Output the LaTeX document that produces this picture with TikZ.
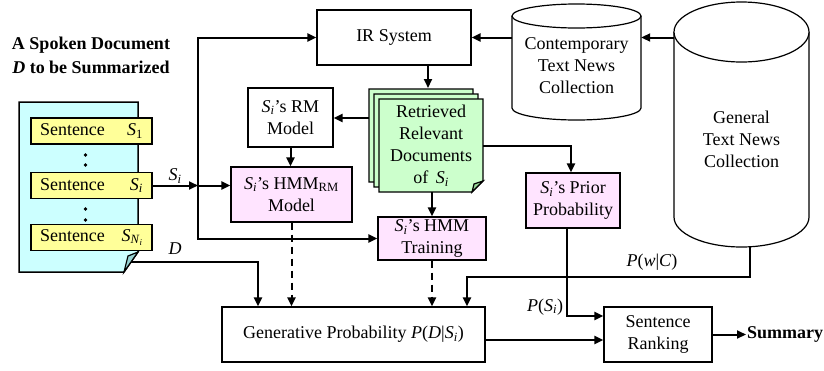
\documentclass[tikz,border=0pt]{standalone}
\usepackage{fontspec}
\setmainfont{Liberation Serif}
\usetikzlibrary{positioning,calc,arrows.meta}

\definecolor{doccyan}{RGB}{204,255,255}
\definecolor{foldcyan}{RGB}{150,210,210}
\definecolor{sentyellow}{RGB}{255,255,153}
\definecolor{docgreen}{RGB}{204,255,204}
\definecolor{foldgreen}{RGB}{150,215,150}
\definecolor{hmmpink}{RGB}{255,228,255}

\newcommand{\Si}{\textit{S}\textsubscript{\textit{i}}}

\begin{document}
\begin{tikzpicture}[x=1pt,y=-1pt,
    font=\fontsize{18}{22}\selectfont,
    box/.style={draw, line width=1.2pt, fill=white, align=center, inner sep=0pt},
    pinkbox/.style={box, fill=hmmpink},
    sentbox/.style={draw, line width=1.5pt, fill=sentyellow, minimum height=26pt,
        text width=103pt, inner xsep=9pt, inner ysep=0pt},
    arr/.style={line width=2pt, -{Triangle[length=9pt,width=8pt]}},
    dasharr/.style={arr, dash pattern=on 7pt off 5pt}]
    \useasboundingbox (0,0) rectangle (824,370);

    % Spoken document
    \node[font=\fontsize{18}{24}\selectfont\bfseries, align=center] (title) at (91,55)
        {A Spoken Document\\\textit{D} to be Summarized};
    \draw[line width=1.5pt, fill=doccyan] (19,102) -- (138,102) -- (138,252) -- (124,272) -- (19,272) -- cycle;
    \draw[line width=1.2pt, fill=foldcyan] (138,252) -- (124,272) -- (128,256) -- cycle;
    \node[sentbox] (s1) at (91.5,131) {Sentence\hfill\textit{S}\textsubscript{1}};
    \node[sentbox] (s2) at (91.5,185.5) {Sentence\hfill\Si};
    \node[sentbox] (s3) at (91.5,237.5) {Sentence\hfill\textit{S}\textsubscript{\textit{N}\textsubscript{\textit{i}}}};
    \foreach \y in {155,165,209,220}
        \fill (85.5,\y) circle[radius=1.8pt];

    % Text collections
    \draw[line width=1.2pt, fill=white] (512,16) -- (512,108) arc[start angle=180, end angle=0, x radius=64.5, y radius=12] -- (641,16);
    \draw[line width=1.2pt, fill=white] (576.5,16) ellipse[x radius=64.5, y radius=12];
    \node[align=center, minimum width=129pt, inner sep=0pt] (cont) at (576.5,66) {Contemporary\\Text News\\Collection};
    \draw[line width=1.2pt, fill=white] (674,32) -- (674,217) arc[start angle=180, end angle=0, x radius=67.5, y radius=30] -- (809,32);
    \draw[line width=1.2pt, fill=white] (741.5,32) ellipse[x radius=67.5, y radius=30];
    \node[align=center, minimum width=135pt, inner sep=0pt] (gnc) at (741.5,139) {General\\Text News\\Collection};
    \coordinate (gncb) at (750,247);

    % Retrieved documents
    \foreach \d in {10,5,0}
        \draw[line width=1.2pt, fill=docgreen, shift={(-\d,-\d)}] (379,99) -- (483,99) -- (483,181) -- (472,192) -- (379,192) -- cycle;
    \draw[line width=1.2pt, fill=foldgreen] (483,181) -- (472,192) -- (474,184) -- cycle;
    \node[align=center, minimum width=104pt, minimum height=93pt, inner sep=0pt] (docs) at (431,145.5)
        {Retrieved\\Relevant\\Documents\\of \,\Si};
    \coordinate (dtop) at (428,88);
    \coordinate (dleft) at (369,118);

    % Boxes
    \node[box, minimum width=154pt, minimum height=55pt] (ir) at (394,37.5) {IR System};
    \node[box, minimum width=85pt, minimum height=59pt] (rm) at (290.5,117.5) {\Si’s RM\\Model};
    \node[pinkbox, minimum width=121pt, minimum height=55pt] (hmmrm) at (291.5,194.5) {\Si’s HMM\textsubscript{RM}\\Model};
    \node[pinkbox, minimum width=108pt, minimum height=43pt] (hmmtr) at (432,238.5) {\Si’s HMM\\Training};
    \node[pinkbox, minimum width=94pt, minimum height=55pt] (prior) at (573,200.5) {\Si’s Prior\\Probability};
    \node[box, minimum width=263pt, minimum height=55pt] (gen) at (353.5,334.5)
        {Generative Probability \textit{P}(\textit{D}|\Si)};
    \node[box, minimum width=108pt, minimum height=55pt] (rank) at (658,334.5) {Sentence\\Ranking};
    \node[font=\fontsize{18}{22}\selectfont\bfseries, anchor=west, inner sep=1pt] (summ) at (746,334.5) {Summary};

    % Connectors
    \coordinate (jn) at (198,185.5);
    \draw[arr] (s2.east) -- (jn);
    \draw[arr] (jn) -- (jn -| hmmrm.west);
    \draw[arr] (jn) |- (ir.west);
    \draw[arr] (jn) |- (hmmtr.west);
    \node (lsi) at (175,176) {\Si};

    \draw[arr] (ir.east -| cont.west) -- (ir.east);
    \draw[arr] (ir.east -| gnc.west) -- (ir.east -| cont.east);
    \draw[arr] (dtop |- ir.south) -- (dtop);
    \draw[arr] (dleft) -- (dleft -| rm.east);
    \draw[arr] (rm.south) -- (rm.south |- hmmrm.north);
    \draw[arr] (hmmtr.north |- docs.south) -- (hmmtr.north);
    \draw[arr] (docs.east) -| ([xshift=-2pt]prior.north);

    \coordinate (dfold) at (131,262);
    \draw[arr] (dfold) -| ([xshift=-95.5pt]gen.north);
    \node (ld) at (175,249) {\textit{D}};
    \draw[dasharr] (hmmrm.south) -- (hmmrm.south |- gen.north);
    \draw[dasharr] (hmmtr.south) -- (hmmtr.south |- gen.north);
    \draw[arr] (gncb) -- ++(0,30) -| ([xshift=113.5pt]gen.north);
    \node (lpw) at (652,262) {\textit{P}(\textit{w}|\textit{C})};

    \draw[arr] ([xshift=-6pt]prior.south) |- ([yshift=18.5pt]rank.west);
    \node (lps) at (545,307) {\textit{P}(\Si)};
    \draw[arr] ([yshift=-5.5pt]gen.east) -- ([yshift=-5.5pt]rank.west);
    \draw[arr] (rank.east) -- (summ.west);
\end{tikzpicture}
\end{document}
